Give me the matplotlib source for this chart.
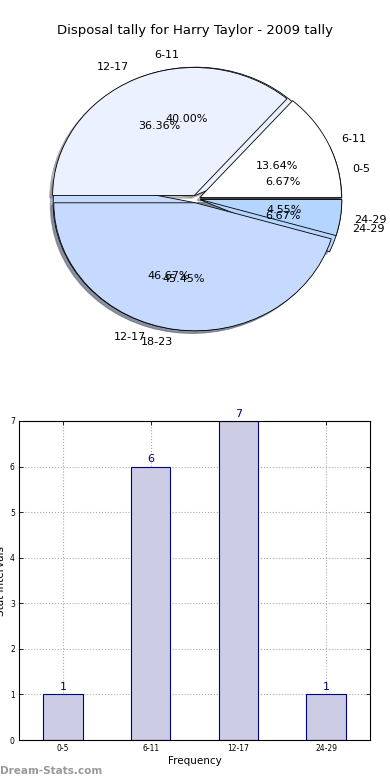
import matplotlib
matplotlib.use("Agg")
import matplotlib.pyplot as plt

# pie 1 - bar chart data
groups_a = ["0-5", "6-11", "12-17", "24-29"]
counts_a = [1, 6, 7, 1]

# pie 2 - second tally overlaid on the first
groups_b = ["6-11", "12-17", "18-23", "24-29"]
counts_b = [3, 8, 10, 1]

slice_colors = ["#FFFFFF", "#EBF1FF", "#C6DAFF", "#B4D5FF"]

title = "Disposal tally for Harry Taylor - 2009 tally"

fig = plt.figure(figsize=(3.9, 7.8), dpi=100)

# ---- pie (two overlaid pies, old-style elliptical) ----
ax_pie = fig.add_axes([19 / 390, 421 / 780, 354 / 390, 320 / 780])
for counts, groups in [(counts_a, groups_a), (counts_b, groups_b)]:
    ax_pie.pie(
        counts, labels=groups, colors=slice_colors,
        explode=[0.03] * len(counts),
        shadow={"ox": -0.015, "oy": -0.015, "shade": 0.5},
        autopct="%1.2f%%", pctdistance=0.6, labeldistance=1.1,
        wedgeprops={"edgecolor": "black", "linewidth": 0.6},
        textprops={"fontsize": 8},
    )
ax_pie.set_aspect("auto")
ax_pie.set_xlim(-1.25, 1.25)
ax_pie.set_ylim(-1.25, 1.25)
ax_pie.axis("off")

fig.text(0.5, 0.961, title, ha="center", va="center", fontsize=9.5)

# ---- bar chart ----
ax = fig.add_axes([19 / 390, 40 / 780, 351 / 390, 319 / 780])
x = range(len(groups_a))
ax.bar(x, counts_a, width=0.45, color="#CCCCE5", edgecolor="#000080",
       linewidth=0.8, zorder=2)
for xi, v in zip(x, counts_a):
    ax.text(xi, v + 0.05, str(v), ha="center", va="bottom",
            color="#000080", fontsize=8)
ax.set_xlim(-0.5, 3.5)
ax.set_ylim(0, 7)
ax.set_xticks(list(x))
ax.set_xticklabels(groups_a)
ax.set_yticks(range(0, 8))
ax.tick_params(labelsize=5.5, direction="in", top=True, right=True,
               length=3, width=0.6, pad=3)
ax.grid(True, linestyle=":", color="#AAAAAA", linewidth=0.8, zorder=0)
ax.set_axisbelow(True)
ax.set_xlabel("Frequency", fontsize=7.5, labelpad=2)
ax.set_ylabel("Stat intervals", fontsize=7.5, labelpad=3)
for s in ax.spines.values():
    s.set_linewidth(0.8)

fig.text(0.0, 0.012, "Dream-Stats.com", ha="left", va="center",
         fontsize=7.5, color="#999999", fontweight="bold")

fig.savefig("out.png", dpi=100)
